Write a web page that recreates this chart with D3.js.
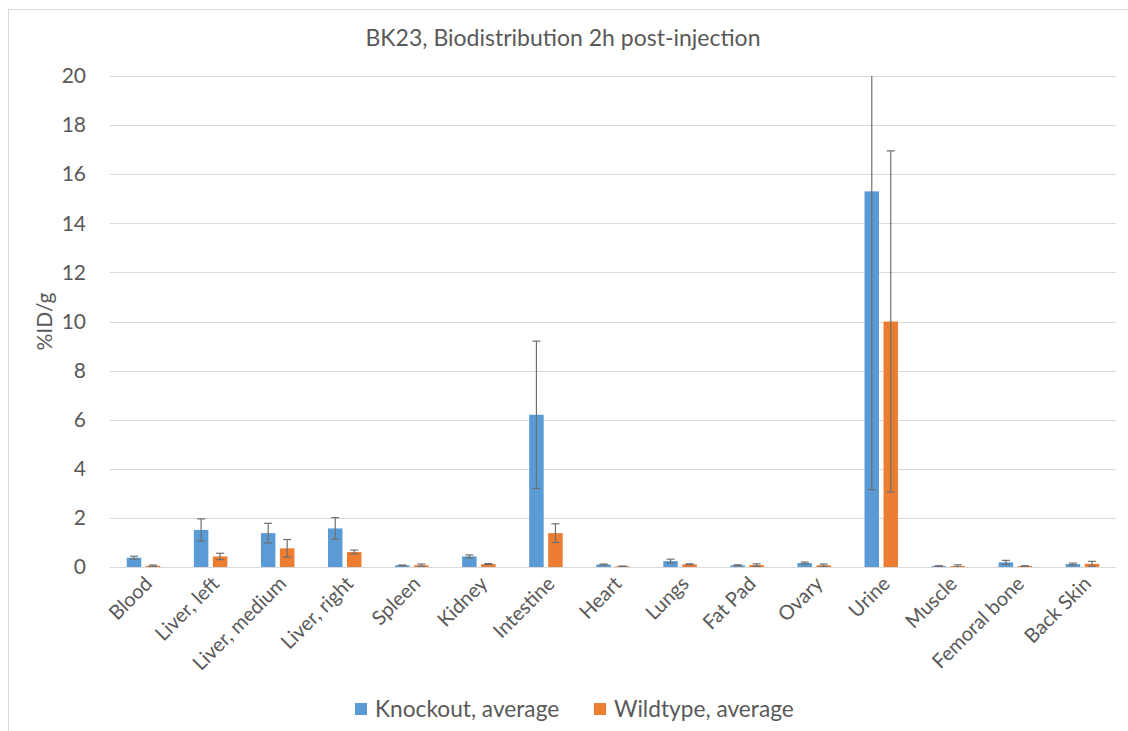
<!DOCTYPE html>
<html>
<head>
<meta charset="utf-8">
<script src="https://cdn.jsdelivr.net/npm/d3@7"></script>
<style>
  html, body { margin: 0; padding: 0; background: #fff; }
  svg { display: block; }
  text { font-family: Lato, "Open Sans", sans-serif; fill: #595959; }
</style>
</head>
<body>
<svg id="chart" width="1128" height="731"></svg>
<script>
// Organs sampled 2 h after injection
const categories = ["Blood", "Liver, left", "Liver, medium", "Liver, right", "Spleen", "Kidney",
  "Intestine", "Heart", "Lungs", "Fat Pad", "Ovary", "Urine", "Muscle", "Femoral bone", "Back Skin"];

const seriesNames = ["Knockout, average", "Wildtype, average"];

// Mean uptake (%ID/g)
const knockoutMean = [0.38, 1.51, 1.38, 1.57, 0.07, 0.43, 6.2, 0.10, 0.24, 0.07, 0.16, 15.3, 0.04, 0.19, 0.12];
const wildtypeMean = [0.05, 0.43, 0.76, 0.61, 0.07, 0.12, 1.38, 0.03, 0.11, 0.08, 0.07, 10.0, 0.04, 0.04, 0.13];

// Error (± SD)
const knockoutErr = [0.06, 0.45, 0.40, 0.44, 0.01, 0.06, 3.0, 0.02, 0.08, 0.02, 0.04, 12.15, 0.01, 0.08, 0.04];
const wildtypeErr = [0.03, 0.13, 0.36, 0.08, 0.05, 0.02, 0.38, 0.00, 0.02, 0.05, 0.05, 6.95, 0.05, 0.01, 0.10];

const yTicks = [0, 2, 4, 6, 8, 10, 12, 14, 16, 18, 20];
const colors = ["#5B9BD5", "#ED7D31"];

const svg = d3.select("#chart");

const plot = { left: 110, right: 1116, top: 76, bottom: 567 };

// Chart frame
svg.append("rect")
  .attr("x", 8.5).attr("y", 9.5)
  .attr("width", 1140).attr("height", 760)
  .attr("fill", "none").attr("stroke", "#d9d9d9").attr("stroke-width", 1);

const x0 = d3.scaleBand().domain(categories).range([plot.left, plot.right]).padding(0);
const bw = x0.bandwidth();
const x1 = d3.scaleBand().domain(seriesNames)
  .range([bw / 2 - 16.75, bw / 2 + 16.75]).paddingInner(0.237).paddingOuter(0);
const y = d3.scaleLinear().domain([0, 20]).range([plot.bottom, plot.top]);

// Gridlines
svg.append("g")
  .selectAll("line").data(yTicks.filter(d => d > 0)).join("line")
  .attr("x1", plot.left).attr("x2", plot.right)
  .attr("y1", d => Math.round(y(d)) + 0.5).attr("y2", d => Math.round(y(d)) + 0.5)
  .attr("stroke", "#d9d9d9").attr("stroke-width", 1);

// Y axis labels
const yAxis = d3.axisLeft(y).tickValues(yTicks).tickSize(0).tickPadding(0).tickFormat(d3.format("d"));
const gy = svg.append("g").attr("transform", `translate(86,0)`).call(yAxis);
gy.select(".domain").remove();
gy.selectAll("text").attr("font-size", 21).style("font-family", "Lato, sans-serif").attr("fill", "#595959");

// Y axis title
svg.append("text")
  .attr("transform", `translate(52,${(plot.top + plot.bottom) / 2}) rotate(-90)`)
  .attr("text-anchor", "middle")
  .attr("font-size", 21)
  .text("%ID/g");

// Title
svg.append("text")
  .attr("x", 563).attr("y", 46)
  .attr("text-anchor", "middle")
  .attr("font-size", 23)
  .text("BK23, Biodistribution 2h post-injection");

svg.append("clipPath").attr("id", "plotclip")
  .append("rect").attr("x", plot.left).attr("y", plot.top)
  .attr("width", plot.right - plot.left).attr("height", plot.bottom - plot.top);

const rows = categories.map((c, i) => ({
  cat: c,
  vals: [
    { s: seriesNames[0], v: knockoutMean[i], e: knockoutErr[i], c: colors[0] },
    { s: seriesNames[1], v: wildtypeMean[i], e: wildtypeErr[i], c: colors[1] }
  ]
}));

const groups = svg.append("g").attr("clip-path", "url(#plotclip)")
  .selectAll("g").data(rows).join("g")
  .attr("transform", d => `translate(${x0(d.cat)},0)`);

groups.selectAll("rect").data(d => d.vals).join("rect")
  .attr("x", d => x1(d.s))
  .attr("width", x1.bandwidth())
  .attr("y", d => y(d.v))
  .attr("height", d => y(0) - y(d.v))
  .attr("fill", d => d.c);

// X axis line
svg.append("line")
  .attr("x1", plot.left).attr("x2", plot.right)
  .attr("y1", plot.bottom + 0.5).attr("y2", plot.bottom + 0.5)
  .attr("stroke", "#d9d9d9").attr("stroke-width", 1);

// Error bars
const err = groups.selectAll("g.err").data(d => d.vals).join("g").attr("class", "err")
  .attr("stroke", "#6f6f6f").attr("stroke-width", 1.2);
err.append("line")
  .attr("x1", d => x1(d.s) + x1.bandwidth() / 2).attr("x2", d => x1(d.s) + x1.bandwidth() / 2)
  .attr("y1", d => y(d.v + d.e)).attr("y2", d => y(Math.max(0, d.v - d.e)));
err.selectAll("line.cap").data(d => [d.v + d.e, Math.max(0, d.v - d.e)].map(val => ({ d, val })))
  .join("line").attr("class", "cap")
  .attr("x1", o => x1(o.d.s) + x1.bandwidth() / 2 - 4)
  .attr("x2", o => x1(o.d.s) + x1.bandwidth() / 2 + 4)
  .attr("y1", o => y(o.val)).attr("y2", o => y(o.val));

// Category labels, rotated
svg.append("g").selectAll("text").data(categories).join("text")
  .attr("text-anchor", "end")
  .attr("font-size", 20)
  .attr("transform", d => `translate(${x0(d) + bw / 2 + 5},${plot.bottom + 13}) rotate(-45)`)
  .attr("dy", "0.35em")
  .text(d => d);

// Legend
const legend = svg.append("g");
const legendItems = [
  { name: seriesNames[0], color: colors[0], x: 355 },
  { name: seriesNames[1], color: colors[1], x: 594 }
];
const li = legend.selectAll("g").data(legendItems).join("g")
  .attr("transform", d => `translate(${d.x},703)`);
li.append("rect").attr("width", 12).attr("height", 12).attr("fill", d => d.color);
li.append("text").attr("x", 20).attr("y", 6).attr("dy", "0.35em")
  .attr("font-size", 22.7).text(d => d.name);
</script>
</body>
</html>
